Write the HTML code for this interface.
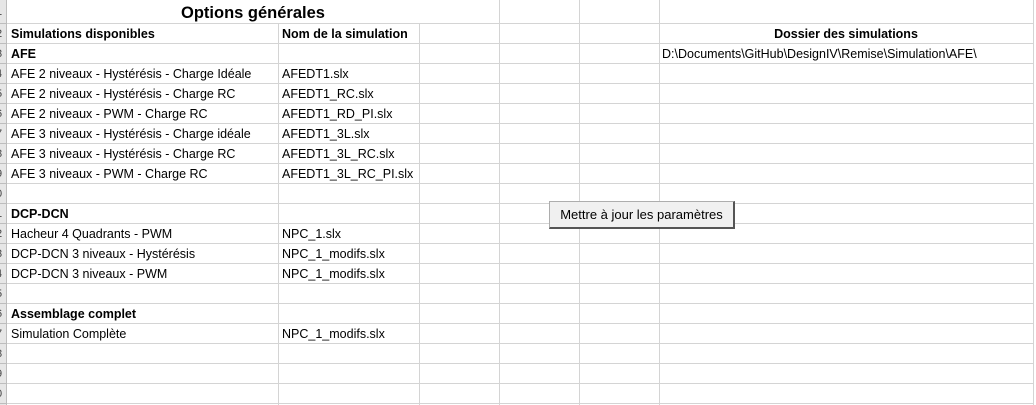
<!DOCTYPE html>
<html><head><meta charset="utf-8"><style>
body{margin:0;width:1036px;height:405px;overflow:hidden;background:#fff;font-family:"Liberation Sans",sans-serif;position:relative}
.h{position:absolute;left:7px;width:1026px;height:1px;background:#d4d4d4}
.v{position:absolute;width:1px;background:#d4d4d4}
.t{position:absolute;font-size:12.5px;color:#000;white-space:nowrap;line-height:20px}
.b{font-weight:bold}
#rh{position:absolute;left:0;top:0;width:6px;height:405px;background:#e6e6e6;border-right:1px solid #bdbdbd;overflow:hidden}
.rn{position:absolute;left:-4px;font-size:11px;color:#444;line-height:20px}
.rl{position:absolute;left:0;width:7px;height:1px;background:#bdbdbd}
</style></head><body>
<div id="rh"></div>
<div id="g"></div>
<div class="t b" style="left:7px;width:492px;top:2px;text-align:center;font-size:16.5px;line-height:22px">Options générales</div>
<div class="t b" style="left:11px;top:24px">Simulations disponibles</div>
<div class="t b" style="left:282px;top:24px">Nom de la simulation</div>
<div class="t b" style="left:659px;width:374px;text-align:center;top:24px">Dossier des simulations</div>
<div class="t b" style="left:11px;top:44px">AFE</div>
<div class="t" style="left:662px;top:44px">D:\Documents\GitHub\DesignIV\Remise\Simulation\AFE\</div>
<div class="t" style="left:11px;top:64px">AFE 2 niveaux - Hystérésis - Charge Idéale</div><div class="t" style="left:282px;top:64px">AFEDT1.slx</div>
<div class="t" style="left:11px;top:84px">AFE 2 niveaux - Hystérésis - Charge RC</div><div class="t" style="left:282px;top:84px">AFEDT1_RC.slx</div>
<div class="t" style="left:11px;top:104px">AFE 2 niveaux - PWM - Charge RC</div><div class="t" style="left:282px;top:104px">AFEDT1_RD_PI.slx</div>
<div class="t" style="left:11px;top:124px">AFE 3 niveaux - Hystérésis - Charge idéale</div><div class="t" style="left:282px;top:124px">AFEDT1_3L.slx</div>
<div class="t" style="left:11px;top:144px">AFE 3 niveaux - Hystérésis - Charge RC</div><div class="t" style="left:282px;top:144px">AFEDT1_3L_RC.slx</div>
<div class="t" style="left:11px;top:164px">AFE 3 niveaux - PWM - Charge RC</div><div class="t" style="left:282px;top:164px">AFEDT1_3L_RC_PI.slx</div>
<div class="t b" style="left:11px;top:204px">DCP-DCN</div>
<div class="t" style="left:11px;top:224px">Hacheur 4 Quadrants - PWM</div><div class="t" style="left:282px;top:224px">NPC_1.slx</div>
<div class="t" style="left:11px;top:244px">DCP-DCN 3 niveaux - Hystérésis</div><div class="t" style="left:282px;top:244px">NPC_1_modifs.slx</div>
<div class="t" style="left:11px;top:264px">DCP-DCN 3 niveaux - PWM</div><div class="t" style="left:282px;top:264px">NPC_1_modifs.slx</div>
<div class="t b" style="left:11px;top:304px">Assemblage complet</div>
<div class="t" style="left:11px;top:324px">Simulation Complète</div><div class="t" style="left:282px;top:324px">NPC_1_modifs.slx</div>
<div style="position:absolute;left:549px;top:201px;width:183px;height:25px;background:#f0f0f0;border:1px solid #adadad;border-right:2px solid #555;border-bottom:2px solid #555;font-size:13px;line-height:25px;text-align:center;white-space:nowrap">Mettre à jour les paramètres</div>
<script>
var g=document.getElementById('g'),h='',rh=document.getElementById('rh'),r='';
for(var i=0;i<20;i++){var y=23+i*20;h+='<div class="h" style="top:'+y+'px"></div>';r+='<div class="rl" style="top:'+y+'px"></div>';var n=i+2;r+='<div class="rn" style="top:'+(y+1)+'px">'+(n%10)+'</div>';}
r+='<div class="rn" style="top:2px">1</div>';
var cols=[[278,23],[419,23],[499,0],[579,0],[659,0],[1033,0]];
cols.forEach(function(c){h+='<div class="v" style="left:'+c[0]+'px;top:'+c[1]+'px;height:'+(405-c[1])+'px"></div>';});
g.innerHTML=h;rh.innerHTML=r;
</script>
</body></html>
